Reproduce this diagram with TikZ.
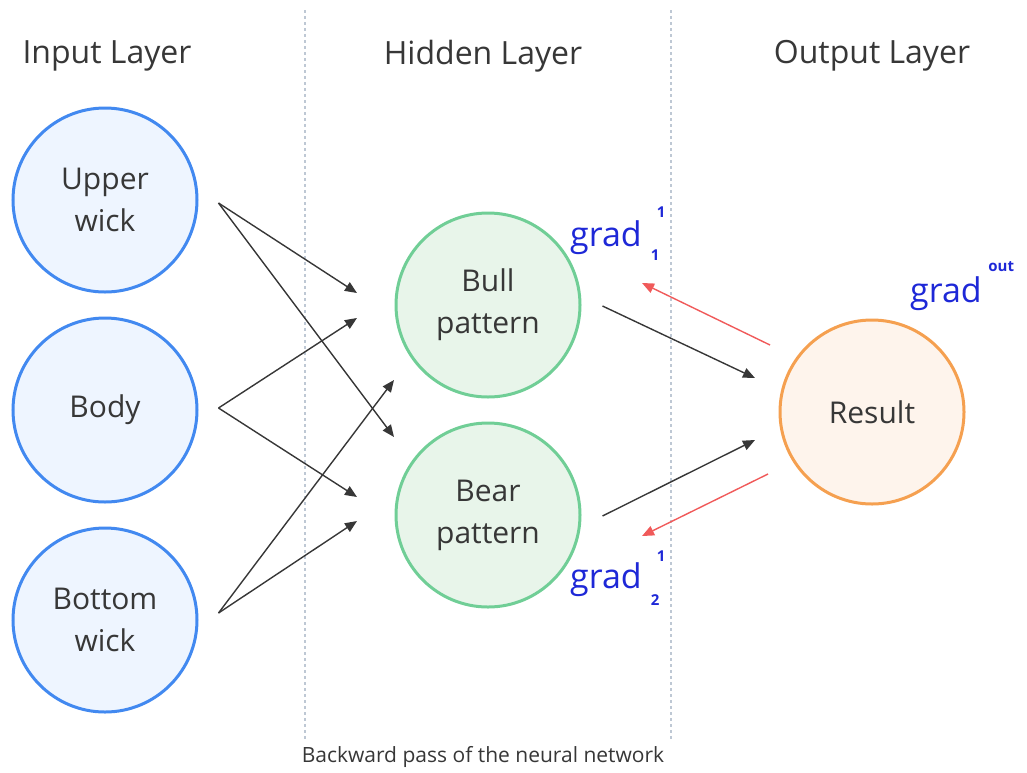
\documentclass[tikz,border=0pt]{standalone}
\usepackage{fontspec}
\setmainfont{Open Sans}
\usetikzlibrary{arrows.meta,positioning,calc}
\definecolor{inkGray}{RGB}{55, 55, 55}
\definecolor{inputBlue}{RGB}{66, 137, 240}
\definecolor{inputFill}{RGB}{238, 245, 255}
\definecolor{hiddenGreen}{RGB}{112, 206, 150}
\definecolor{hiddenFill}{RGB}{232, 245, 234}
\definecolor{outputOrange}{RGB}{245, 160, 80}
\definecolor{outputFill}{RGB}{254, 244, 236}
\definecolor{gradBlue}{RGB}{30, 40, 215}
\definecolor{backRed}{RGB}{240, 90, 90}
\definecolor{guideGray}{RGB}{190, 200, 212}
\tikzset{
    neuron/.style={circle, line width=1.5pt, minimum size=92pt, inner sep=0pt, align=center, text=inkGray, font=\fontsize{15}{21}\selectfont},
    inneuron/.style={neuron, draw=inputBlue, fill=inputFill},
    hidneuron/.style={neuron, draw=hiddenGreen, fill=hiddenFill},
    outneuron/.style={neuron, draw=outputOrange, fill=outputFill},
    fwd/.style={draw=inkGray, line width=0.7pt, -{Triangle[length=6pt,width=5pt]}},
    bwd/.style={draw=backRed, line width=0.7pt, -{Triangle[length=6pt,width=5pt]}},
    layertitle/.style={text=inkGray, font=\fontsize{16}{19}\selectfont},
    gradlabel/.style={text=gradBlue, inner sep=0pt, font=\fontsize{17}{20}\selectfont},
    gradidx/.style={text=gradBlue, inner sep=0pt, font=\fontsize{7.5}{8}\selectfont\bfseries},
    guide/.style={draw=guideGray, line width=0.6pt, dash pattern=on 1.5pt off 1.5pt}
}
\begin{document}
\begin{tikzpicture}[x=0.5pt, y=-0.5pt]
    \useasboundingbox (0,0) rectangle (1027,772);
    \draw[guide] (305,10) -- (305,742);
    \draw[guide] (671,10) -- (671,742);

    \node[layertitle] (tin) at (107,56) {Input Layer};
    \node[layertitle] (thid) at (483,56) {Hidden Layer};
    \node[layertitle] (tout) at (872,56) {Output Layer};

    \node[inneuron] (upper) at (105,200) {Upper\\wick};
    \node[inneuron] (body) at (105,410) {Body};
    \node[inneuron] (bottom) at (105,620) {Bottom\\wick};
    \node[hidneuron] (bull) at (488,305) {Bull\\pattern};
    \node[hidneuron] (bear) at (488,515) {Bear\\pattern};
    \node[outneuron] (result) at (872,412) {Result};

    \coordinate (upper-o) at ($(upper.east)+(20,3)$);
    \coordinate (body-o) at ($(body.east)+(20,-2)$);
    \coordinate (bottom-o) at ($(bottom.east)+(20,-7)$);
    \coordinate (bull-i1) at ($(bull)+(-131,-12)$);
    \coordinate (bull-i2) at ($(bull)+(-131,13)$);
    \coordinate (bull-i3) at ($(bull)+(-94,75)$);
    \coordinate (bear-i1) at ($(bear)+(-94,-78)$);
    \coordinate (bear-i2) at ($(bear)+(-131,-18)$);
    \coordinate (bear-i3) at ($(bear)+(-131,6)$);
    \coordinate (bull-o) at ($(bull.east)+(21,1)$);
    \coordinate (bear-o) at ($(bear.east)+(21,1)$);
    \coordinate (result-i1) at ($(result)+(-117,-34)$);
    \coordinate (result-i2) at ($(result)+(-117,28)$);
    \coordinate (result-b1) at ($(result)+(-102,-67)$);
    \coordinate (result-b2) at ($(result)+(-104,62)$);
    \coordinate (bull-b) at ($(bull)+(154,-22)$);
    \coordinate (bear-b) at ($(bear)+(154,21)$);

    \draw[fwd] (upper-o) -- (bull-i1);
    \draw[fwd] (upper-o) -- (bear-i1);
    \draw[fwd] (body-o) -- (bull-i2);
    \draw[fwd] (body-o) -- (bear-i2);
    \draw[fwd] (bottom-o) -- (bull-i3);
    \draw[fwd] (bottom-o) -- (bear-i3);
    \draw[fwd] (bull-o) -- (result-i1);
    \draw[fwd] (bear-o) -- (result-i2);
    \draw[bwd] (result-b1) -- (bull-b);
    \draw[bwd] (result-b2) -- (bear-b);

    \node[gradlabel] (g1) at (606,238) {grad};
    \node[gradidx] (g1sub) at ($(g1.east)+(13,17)$) {1};
    \node[gradidx] (g1sup) at ($(g1.east)+(19,-26)$) {1};
    \node[gradlabel] (g2) at (606,580) {grad};
    \node[gradidx] (g2sub) at ($(g2.east)+(13,20)$) {2};
    \node[gradidx] (g2sup) at ($(g2.east)+(19,-24)$) {1};
    \node[gradlabel] (gout) at (946,294) {grad};
    \node[gradidx] (goutsup) at ($(gout.east)+(19,-27)$) {out};

    \node[text=inkGray, font=\fontsize{10.5}{12}\selectfont] (caption) at (483,757) {Backward pass of the neural network};
\end{tikzpicture}
\end{document}
